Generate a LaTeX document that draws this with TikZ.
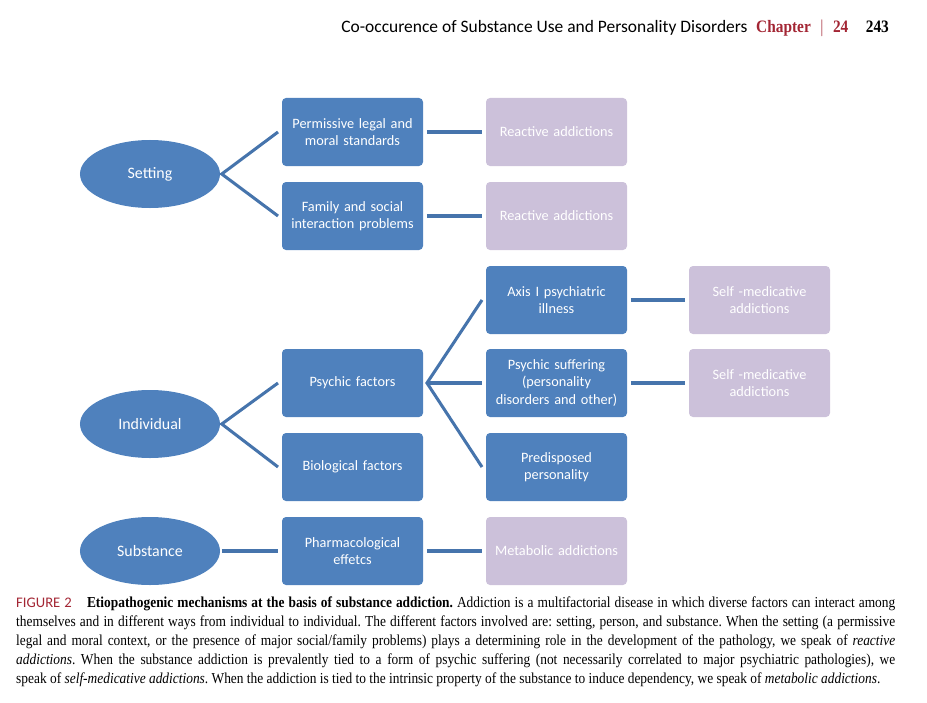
\documentclass[tikz,border=0pt]{standalone}
\usepackage{fontspec}
\setmainfont{Carlito}
\newfontfamily\capfont[FakeStretch=0.88]{Liberation Serif}
\newfontfamily\headfont{Carlito}
\usepackage{tikz}
\usetikzlibrary{positioning,shapes.geometric}
\definecolor{boxB}{RGB}{79,129,189}
\definecolor{lineB}{RGB}{70,116,172}
\definecolor{lilac}{RGB}{204,193,218}
\definecolor{chapR}{RGB}{163,38,52}

\begin{document}
\begin{tikzpicture}[x=0.03cm, y=-0.03cm,
  font=\fontsize{12.2}{14.6}\selectfont, text=white,
  root/.style={ellipse, fill=boxB, minimum width=4.2cm, minimum height=2.04cm,
               inner sep=0pt, outer sep=1.5pt, font=\fontsize{13.6}{16}\selectfont},
  fact/.style={rectangle, rounded corners=1.2mm, fill=boxB, minimum width=4.23cm,
               minimum height=2.04cm, text width=3.9cm, align=center, inner sep=0pt,
               outer sep=3.4pt},
  addict/.style={fact, fill=lilac},
  link/.style={draw=lineB, line width=2.6pt}]
  \useasboundingbox (0,0) rectangle (927,703);

  % running head
  \node[anchor=east, text=black, font=\headfont\fontsize{14.9}{17}\selectfont] (head) at (893,28)
    {Co-occurence of Substance Use and Personality Disorders\enspace
     {\capfont\textcolor{chapR}{\textbf{Chapter}\enspace$|$\enspace\textbf{24}}\quad\textbf{243}}};

  % roots
  \node[root] (setting) at (150,174) {Setting};
  \node[root] (indiv) at (150,424) {Individual};
  \node[root] (subst) at (150,551) {Substance};

  % factors
  \node[fact] (perm) at (352.5,132) {Permissive legal and\\ moral standards};
  \node[fact] (family) at (352.5,216) {Family and social\\ interaction problems};
  \node[fact] (psychic) at (352.5,383) {Psychic factors};
  \node[fact] (bio) at (352.5,467) {Biological factors};
  \node[fact] (pharma) at (352.5,551) {Pharmacological\\ effetcs};

  % second column
  \node[addict] (react1) at (556.5,132) {Reactive addictions};
  \node[addict] (react2) at (556.5,216) {Reactive addictions};
  \node[fact] (axis) at (556.5,300) {Axis I psychiatric\\ illness};
  \node[fact] (suffer) at (556.5,383) {Psychic suffering\\ (personality\\ disorders and other)};
  \node[fact] (predisp) at (556.5,467) {Predisposed\\ personality};
  \node[addict] (metab) at (556.5,551) {Metabolic addictions};

  % third column
  \node[addict] (self1) at (759.5,300) {Self -medicative\\ addictions};
  \node[addict] (self2) at (759.5,383) {Self -medicative\\ addictions};

  \draw[link] (perm.west) -- (setting.east) -- (family.west);
  \draw[link] (psychic.west) -- (indiv.east) -- (bio.west);
  \draw[link] (subst.east) -- (pharma.west);
  \draw[link] (axis.west) -- (psychic.east) -- (predisp.west);
  \draw[link] (psychic.east) -- (suffer.west);
  \draw[link] (perm) -- (react1);
  \draw[link] (family) -- (react2);
  \draw[link] (pharma) -- (metab);
  \draw[link] (axis) -- (self1);
  \draw[link] (suffer) -- (self2);

  % caption
  \node[anchor=north west, text=black, text width=26.37cm, align=justify, inner sep=0pt,
        font=\capfont\fontsize{13}{16.2}\selectfont\frenchspacing] (caption) at (16,597)
    {{\headfont\fontsize{12.5}{16}\selectfont\textcolor{chapR}{FIGURE 2}}\quad\textbf{Etiopathogenic mechanisms at the basis of substance addiction.} Addiction is a multifactorial disease in which diverse factors can interact among\linebreak
     themselves and in different ways from individual to individual. The different factors involved are: setting, person, and substance. When the setting (a permissive\linebreak
     legal and moral context, or the presence of major social/family problems) plays a determining role in the development of the pathology, we speak of \emph{reactive}\linebreak
     \emph{addictions}. When the substance addiction is prevalently tied to a form of psychic suffering (not necessarily correlated to major psychiatric pathologies), we\linebreak
     speak of \emph{self-medicative addictions}. When the addiction is tied to the intrinsic property of the substance to induce dependency, we speak of \emph{metabolic addictions}.};
\end{tikzpicture}
\end{document}
